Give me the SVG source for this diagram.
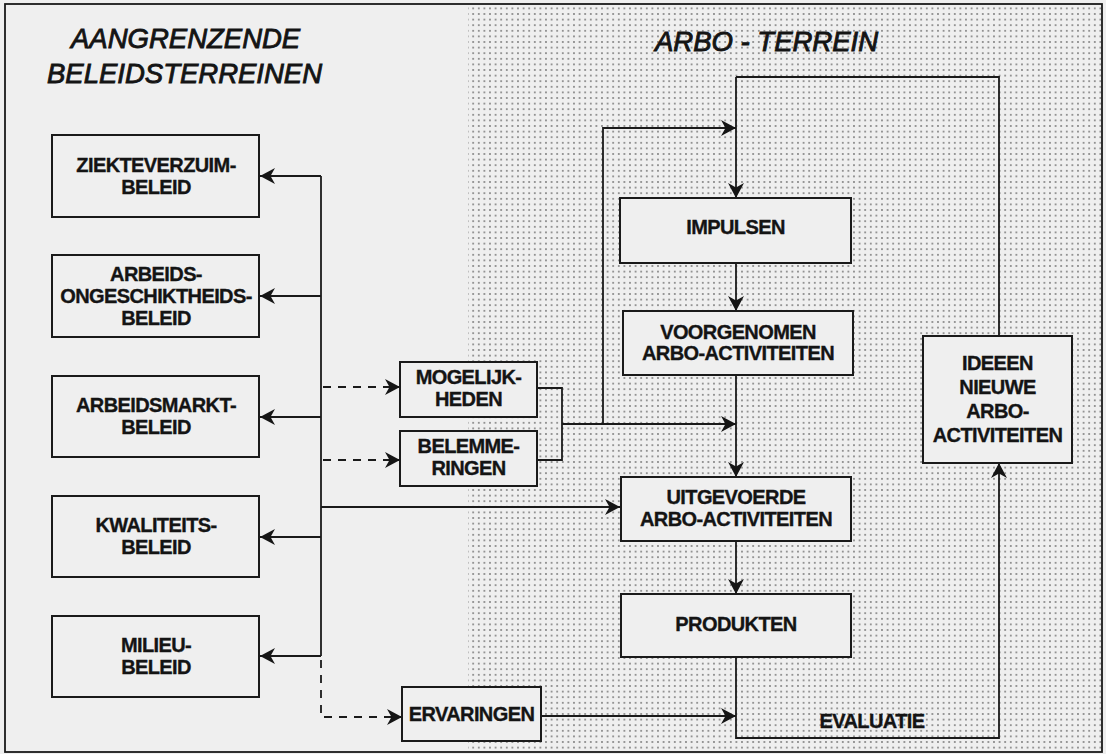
<svg xmlns="http://www.w3.org/2000/svg" width="1106" height="754" viewBox="0 0 1106 754">
  <defs>
    <pattern id="dots" x="0" y="0" width="5.6" height="5.6" patternUnits="userSpaceOnUse">
      <circle cx="2.8" cy="2.8" r="0.9" fill="#707070"/>
    </pattern>
    <marker id="arr" markerUnits="userSpaceOnUse" markerWidth="17" markerHeight="17" refX="15" refY="8" orient="auto">
      <path d="M0,0 L15,8 L0,16 L4.5,8 Z" fill="#151515"/>
    </marker>
    <style>
      .bg { fill: #efefef; }
      .box { fill: #efefef; stroke: #1a1a1a; stroke-width: 2; }
      .lbl { font-family: "Liberation Sans", Arial, sans-serif; font-weight: bold; font-size: 20px; letter-spacing: -0.6px; fill: #141414; stroke: #141414; stroke-width: 0.35; text-anchor: middle; }
      .title { font-family: "Liberation Sans", Arial, sans-serif; font-style: italic; font-size: 27.5px; fill: #141414; stroke: #141414; stroke-width: 0.9; }
      .ln { fill: none; stroke: #1a1a1a; stroke-width: 1.8; }
      .ar { marker-end: url(#arr); }
      .dash { stroke-dasharray: 8 7; }
    </style>
  </defs>

  <rect class="bg" x="0" y="0" width="1106" height="754"/>
  <rect x="468" y="5" width="634" height="747" fill="url(#dots)"/>
  <rect x="5" y="4" width="1097" height="748" fill="none" stroke="#1a1a1a" stroke-width="1.8"/>

  <g id="titles">
    <text class="title" x="71" y="48">AANGRENZENDE</text>
    <text class="title" x="47" y="83">BELEIDSTERREINEN</text>
    <text class="title" x="655" y="51">ARBO - TERREIN</text>
  </g>

  <g id="connectors">
    <path class="ln" d="M321,176 L321,656"/>
    <path class="ln ar" d="M321,176 L260,176"/>
    <path class="ln ar" d="M321,296 L260,296"/>
    <path class="ln ar" d="M321,417 L260,417"/>
    <path class="ln ar" d="M321,537 L260,537"/>
    <path class="ln ar" d="M321,656 L260,656"/>
    <path class="ln ar" d="M321,507 L620,507"/>
    <path class="ln dash ar" d="M323,387 L400,387"/>
    <path class="ln dash ar" d="M323,460 L400,460"/>
    <path class="ln dash ar" d="M321,660 L321,717 L402,717"/>
    <path class="ln" d="M537,388 L562,388 L562,460 L537,460"/>
    <path class="ln ar" d="M562,424 L736,424"/>
    <path class="ln ar" d="M603,424 L603,128 L736,128"/>
    <path class="ln" d="M999,336 L999,77 L736,77"/>
    <path class="ln ar" d="M736,77 L736,198"/>
    <path class="ln ar" d="M736,263 L736,311"/>
    <path class="ln ar" d="M736,375 L736,477"/>
    <path class="ln ar" d="M736,541 L736,594"/>
    <path class="ln ar" d="M736,657 L736,738 L999,738 L999,463"/>
    <path class="ln ar" d="M541,716 L736,716"/>
    <text class="lbl" x="872" y="728">EVALUATIE</text>
  </g>

  <g id="ziekteverzuim">
    <rect class="box" x="52" y="135" width="207" height="82"/>
    <text class="lbl" x="156" y="172">ZIEKTEVERZUIM-</text>
    <text class="lbl" x="156" y="194">BELEID</text>
  </g>
  <g id="arbeidsongeschiktheid">
    <rect class="box" x="52" y="255" width="207" height="82"/>
    <text class="lbl" x="156" y="281">ARBEIDS-</text>
    <text class="lbl" x="156" y="303">ONGESCHIKTHEIDS-</text>
    <text class="lbl" x="156" y="325">BELEID</text>
  </g>
  <g id="arbeidsmarkt">
    <rect class="box" x="52" y="376" width="207" height="81"/>
    <text class="lbl" x="156" y="412">ARBEIDSMARKT-</text>
    <text class="lbl" x="156" y="434">BELEID</text>
  </g>
  <g id="kwaliteit">
    <rect class="box" x="52" y="496" width="207" height="81"/>
    <text class="lbl" x="156" y="532">KWALITEITS-</text>
    <text class="lbl" x="156" y="554">BELEID</text>
  </g>
  <g id="milieu">
    <rect class="box" x="52" y="616" width="207" height="81"/>
    <text class="lbl" x="156" y="652">MILIEU-</text>
    <text class="lbl" x="156" y="674">BELEID</text>
  </g>

  <g id="mogelijkheden">
    <rect class="box" x="400" y="362" width="137" height="55"/>
    <text class="lbl" x="468.5" y="384">MOGELIJK-</text>
    <text class="lbl" x="468.5" y="406">HEDEN</text>
  </g>
  <g id="belemmeringen">
    <rect class="box" x="400" y="431" width="137" height="55"/>
    <text class="lbl" x="468.5" y="453">BELEMME-</text>
    <text class="lbl" x="468.5" y="475">RINGEN</text>
  </g>
  <g id="ervaringen">
    <rect class="box" x="402" y="687" width="139" height="54"/>
    <text class="lbl" x="471.5" y="721">ERVARINGEN</text>
  </g>

  <g id="impulsen">
    <rect class="box" x="620" y="198" width="231" height="65"/>
    <text class="lbl" x="735.5" y="234">IMPULSEN</text>
  </g>
  <g id="voorgenomen">
    <rect class="box" x="623" y="311" width="230" height="64"/>
    <text class="lbl" x="738" y="339">VOORGENOMEN</text>
    <text class="lbl" x="738" y="360">ARBO-ACTIVITEITEN</text>
  </g>
  <g id="uitgevoerde">
    <rect class="box" x="621" y="477" width="230" height="64"/>
    <text class="lbl" x="736" y="504">UITGEVOERDE</text>
    <text class="lbl" x="736" y="526">ARBO-ACTIVITEITEN</text>
  </g>
  <g id="produkten">
    <rect class="box" x="621" y="594" width="230" height="63"/>
    <text class="lbl" x="736" y="631">PRODUKTEN</text>
  </g>
  <g id="ideeen">
    <rect class="box" x="923" y="336" width="149" height="127"/>
    <text class="lbl" x="997.5" y="370">IDEEEN</text>
    <text class="lbl" x="997.5" y="394">NIEUWE</text>
    <text class="lbl" x="997.5" y="418">ARBO-</text>
    <text class="lbl" x="997.5" y="442">ACTIVITEITEN</text>
  </g>
</svg>
